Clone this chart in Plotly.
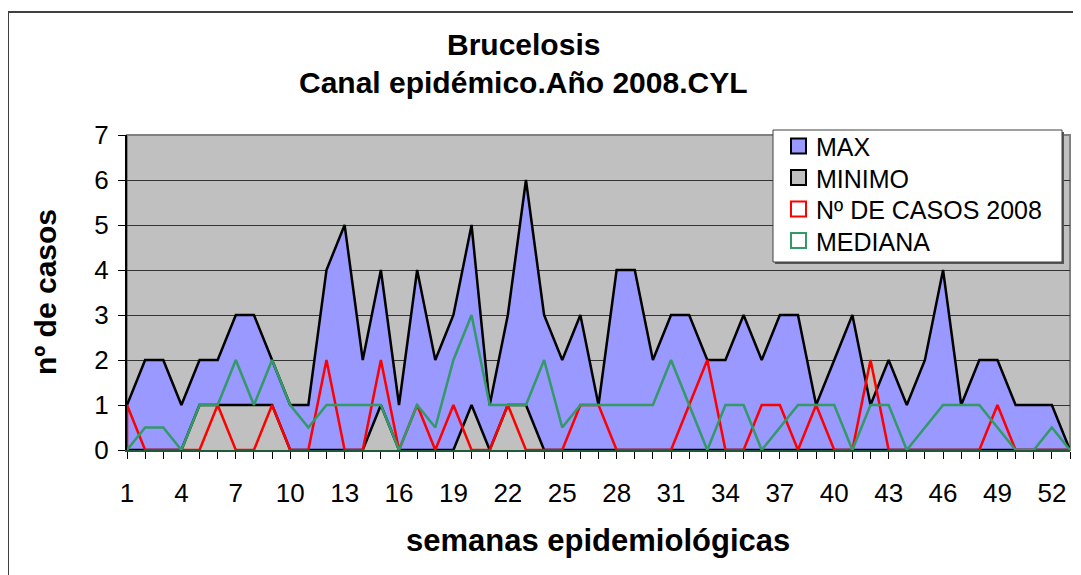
import plotly.graph_objects as go

weeks = list(range(1, 54))
maximo = [1, 2, 2, 1, 2, 2, 3, 3, 2, 1,
          1, 4, 5, 2, 4, 1, 4, 2, 3, 5,
          1, 3, 6, 3, 2, 3, 1, 4, 4, 2,
          3, 3, 2, 2, 3, 2, 3, 3, 1, 2,
          3, 1, 2, 1, 2, 4, 1, 2, 2, 1,
          1, 1, 0]
minimo = [0, 0, 0, 0, 1, 1, 1, 1, 1, 0,
          0, 0, 0, 0, 1, 0, 0, 0, 0, 1,
          0, 1, 1, 0, 0, 0, 0, 0, 0, 0,
          0, 0, 0, 0, 0, 0, 0, 0, 0, 0,
          0, 0, 0, 0, 0, 0, 0, 0, 0, 0,
          0, 0, 0]
casos_2008 = [1, 0, 0, 0, 0, 1, 0, 0, 1, 0,
              0, 2, 0, 0, 2, 0, 1, 0, 1, 0,
              0, 1, 0, 0, 0, 1, 1, 0, 0, 0,
              0, 1, 2, 0, 0, 1, 1, 0, 1, 0,
              0, 2, 0, 0, 0, 0, 0, 0, 1, 0,
              0, 0, 0]
mediana = [0, 0.5, 0.5, 0, 1, 1, 2, 1, 2, 1,
           0.5, 1, 1, 1, 1, 0, 1, 0.5, 2, 3,
           1, 1, 1, 2, 0.5, 1, 1, 1, 1, 1,
           2, 1, 0, 1, 1, 0, 0.5, 1, 1, 1,
           0, 1, 1, 0, 0.5, 1, 1, 1, 0.5, 0,
           0, 0.5, 0]
x_ticktext = [str(w) if (w - 1) % 3 == 0 else "" for w in weeks]

legend_names = ["MAX", "MINIMO", "Nº DE CASOS 2008", "MEDIANA"]
legend_fill = ["#9999FF", "#C0C0C0", "white", "white"]
legend_line = ["black", "black", "red", "#339966"]

# page has an 8px body margin, so the figure is drawn 8px down/right
OFF = 8
W, H = 1081 - OFF, 575 - OFF
# plot area in page pixels
L, R, T, B = 127, 1070, 135, 450
FONT = "Liberation Sans, Arial, sans-serif"


def px(x):
    return (x - L) / (R - L)


def py(y):
    return (B - y) / (B - T)


fig = go.Figure()
# areas (Excel area-chart style: border also runs down the ends and along the base)
fig.add_trace(go.Scatter(x=weeks, y=maximo, mode="lines", fill="tozeroy",
                         fillcolor="#9999FF", line=dict(color="black", width=2.5),
                         name="MAX", showlegend=False, cliponaxis=False))
fig.add_trace(go.Scatter(x=weeks, y=minimo, mode="lines", fill="tozeroy",
                         fillcolor="#C0C0C0", line=dict(color="black", width=2.5),
                         name="MINIMO", showlegend=False, cliponaxis=False))
fig.add_trace(go.Scatter(x=[weeks[0]] + weeks + [weeks[-1]], y=[0] + casos_2008 + [0],
                         mode="lines", line=dict(color="red", width=2.5),
                         name="Nº DE CASOS 2008", showlegend=False, cliponaxis=False))
fig.add_trace(go.Scatter(x=[weeks[0]] + weeks + [weeks[-1]], y=[0] + mediana + [0],
                         mode="lines", line=dict(color="#339966", width=2.5),
                         name="MEDIANA", showlegend=False, cliponaxis=False))

shapes = [
    # plot area border (top / right)
    dict(type="rect", xref="paper", yref="paper", x0=0, x1=1, y0=0, y1=1,
         line=dict(color="#808080", width=2), layer="below"),
    # chart area border
    dict(type="rect", xref="paper", yref="paper", x0=px(8), x1=px(1095), y0=py(600), y1=py(12),
         line=dict(color="#404040", width=2)),
    # legend shadow + box
    dict(type="rect", xref="paper", yref="paper", x0=px(775), x1=px(1064), y0=py(264), y1=py(132),
         line=dict(width=0), fillcolor="#555555"),
    dict(type="rect", xref="paper", yref="paper", x0=px(773), x1=px(1062), y0=py(262), y1=py(130),
         line=dict(color="#404040", width=1), fillcolor="white"),
]
annotations = []
for i, name in enumerate(legend_names):
    cy = 146 + i * 31.5
    shapes.append(dict(type="rect", xref="paper", yref="paper",
                       x0=px(791), x1=px(806), y0=py(cy + 7.5), y1=py(cy - 7.5),
                       line=dict(color=legend_line[i], width=2), fillcolor=legend_fill[i]))
    annotations.append(dict(text=name, xref="paper", yref="paper", x=px(814), y=py(cy + 1),
                            xanchor="left", yanchor="middle", showarrow=False,
                            font=dict(family=FONT, size=25, color="black")))

annotations.append(dict(text="<b>semanas epidemiológicas</b>", xref="paper", yref="paper",
                        x=px(598), y=py(540), xanchor="center", yanchor="middle", showarrow=False,
                        font=dict(family=FONT, size=31, color="black")))
annotations.append(dict(text="<b>nº de casos</b>", xref="paper", yref="paper",
                        x=px(45), y=py(292), xanchor="center", yanchor="middle", showarrow=False,
                        textangle=-90, font=dict(family=FONT, size=30, color="black")))
annotations.append(dict(text="<b>Brucelosis</b>", xref="paper", yref="paper",
                        x=px(523), y=py(45), xanchor="center", yanchor="middle", showarrow=False,
                        font=dict(family=FONT, size=30, color="black")))
annotations.append(dict(text="<b>Canal epidémico.Año 2008.CYL</b>", xref="paper", yref="paper",
                        x=px(523), y=py(83), xanchor="center", yanchor="middle", showarrow=False,
                        font=dict(family=FONT, size=30, color="black")))

fig.update_layout(
    width=W, height=H,
    margin=dict(l=L - OFF, r=W - (R - OFF), t=T - OFF, b=H - (B - OFF)),
    paper_bgcolor="white", plot_bgcolor="#C0C0C0",
    shapes=shapes, annotations=annotations, showlegend=False,
)
fig.update_xaxes(range=[1, 53], tickvals=weeks, ticktext=x_ticktext,
                 ticks="outside", ticklen=7, tickcolor="black", tickwidth=1,
                 showline=True, linecolor="#1f5a36", linewidth=2,
                 showgrid=False, zeroline=False,
                 tickfont=dict(family=FONT, size=26, color="black"), ticklabelstandoff=12)
fig.update_yaxes(range=[0, 7], dtick=1, ticks="outside", ticklen=7, tickcolor="black",
                 showline=True, linecolor="black", linewidth=2,
                 showgrid=True, gridcolor="#333333", gridwidth=1, zeroline=False,
                 tickfont=dict(family=FONT, size=26, color="black"), ticklabelstandoff=4)

fig.write_html("out.html")
